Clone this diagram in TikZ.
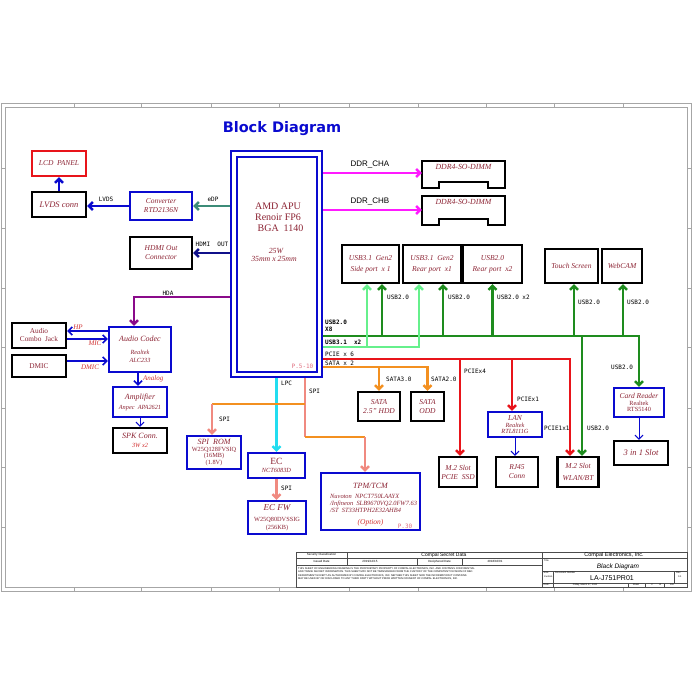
\documentclass[tikz,border=0pt]{standalone}
\usepackage{fontspec}
\setmainfont{Liberation Serif}
\newfontfamily\monof{DejaVu Sans Mono}
\newfontfamily\sansf{Liberation Sans}
\newfontfamily\titlef{DejaVu Sans}
\usetikzlibrary{arrows.meta}
\newcommand\fsz[2]{\fontsize{#1}{#2}\selectfont}
\newcommand\smit{\itshape\fsz{6.3}{7}}
\newcommand\smup{\upshape\fsz{6.3}{7}}
\definecolor{txt}{HTML}{8B2232}
\definecolor{lbl}{HTML}{D03030}
\definecolor{bblue}{HTML}{0A0ACF}
\definecolor{grn}{HTML}{1E8C1E}
\definecolor{lgrn}{HTML}{66F08C}
\definecolor{rdb}{HTML}{E8141A}
\definecolor{org}{HTML}{F39020}
\definecolor{pnk}{HTML}{F08A80}
\definecolor{cyn}{HTML}{22DDF0}
\definecolor{mag}{HTML}{FF1AFF}
\definecolor{pur}{HTML}{8A0A8A}
\definecolor{edpc}{HTML}{3C8C78}
\definecolor{hdmic}{HTML}{10108A}
\definecolor{pgc}{HTML}{E07080}
\begin{document}
\begin{tikzpicture}[x=1pt,y=-1pt,
  bx/.style={draw, line width=2.4pt, inner sep=1pt, align=center, text=txt, font=\itshape\fsz{7.5}{9}},
  kbox/.style={bx, draw=black},
  bbox/.style={bx, draw=bblue},
  rbox/.style={bx, draw=rdb},
  tip/.style={-{Straight Barb[length=4pt,width=8pt]}},
  ln/.style={line width=2.4pt},
  thn/.style={line width=1pt},
  lab/.style={font=\monof\fsz{6}{7}, inner sep=0},
  blab/.style={font=\monof\bfseries\fsz{6}{7}, inner sep=0},
  rlab/.style={font=\itshape\fsz{7}{7.5}, text=lbl, inner sep=0},
  frm/.style={draw=black!35, line width=0.7pt},
  tb/.style={draw=black!70, line width=0.5pt},
  tbt/.style={font=\sansf\fsz{3}{3.5}, inner sep=0},
]
\useasboundingbox (0,0) rectangle (700,700);

% frame
\draw[frm] (1.5,103) rectangle (691.5,591);
\draw[frm] (5,107.5) rectangle (687,587);
\foreach \x in {74,141,211,279,349,418,486,554,623} {\draw[frm] (\x,103) -- (\x,107.5); \draw[frm] (\x,587) -- (\x,591);}
\foreach \y in {168,228,288,347,408,467,527} {\draw[frm] (1.5,\y) -- (5,\y); \draw[frm] (687,\y) -- (691.5,\y);}

% title
\node[font=\titlef\bfseries\fsz{14.5}{16}, text=bblue] (title) at (282,129) {Block Diagram};

% APU
\node[draw=bblue, line width=2.6pt, minimum width=91, minimum height=226, inner sep=0] (apu) at (276.5,264) {};
\draw[bblue, line width=1.3pt] (237,157) rectangle (317,372);
\node[font=\fsz{10}{11.2}, text=txt, align=center] (apuname) at (278,217) {AMD APU\\Renoir FP6\\\ \ BGA\ \ 1140};
\node[font=\itshape\fsz{7.8}{8.8}, text=txt, align=center] (apupw) at (274,255) {\ \ 25W\\35mm x 25mm};
\node[lab, text=pgc] (apupg) at (302.5,366.5) {P.5-10};

% display side
\node[rbox, minimum width=54, minimum height=25] (lcd) at (59,163.5) {LCD\ \ PANEL};
\node[kbox, minimum width=54, minimum height=25, font=\itshape\fsz{8.5}{9}] (lvds) at (59,204.5) {LVDS conn};
\node[bbox, minimum width=62, minimum height=28] (conv) at (161,206) {Converter\\RTD2136N};
\node[kbox, minimum width=62, minimum height=32] (hdmi) at (161,253) {HDMI Out\\Connector};
\draw[ln, bblue, tip] (lvds.north) -- (lcd.south);
\draw[ln, bblue, tip] (conv.west) -- (conv.west -| lvds.east);
\draw[ln, edpc, tip] (apu.west |- conv.east) -- (conv.east);
\draw[ln, hdmic, tip] (apu.west |- hdmi.east) -- (hdmi.east);
\node[lab] (lvdsl) at (106,199) {LVDS};
\node[lab] (edpl) at (213,199) {eDP};
\node[lab] (hdmil) at (212,244) {HDMI\ \ OUT};

% DDR
\node[minimum width=83, minimum height=20, inner sep=0] (dimm1) at (463.5,173) {};
\node[minimum width=83, minimum height=20, inner sep=0] (dimm2) at (463.5,210) {};
\draw[line width=2.4pt] (422,161) -- (505,161) -- (505,188) -- (488,188) -- (488,182) -- (439,182) -- (439,188) -- (422,188) -- cycle;
\draw[line width=2.4pt] (422,196) -- (505,196) -- (505,225) -- (488,225) -- (488,219) -- (439,219) -- (439,225) -- (422,225) -- cycle;
\node[text=txt, font=\itshape\fsz{7.8}{8}] (d1t) at (463.5,166.5) {DDR4-SO-DIMM};
\node[text=txt, font=\itshape\fsz{7.8}{8}] (d2t) at (463.5,202) {DDR4-SO-DIMM};
\draw[ln, mag, tip] (apu.east |- dimm1) -- (dimm1.west);
\draw[ln, mag, tip] (apu.east |- dimm2) -- (dimm2.west);
\node[font=\sansf\fsz{8}{8.5}] (ddral) at (370,165) {DDR\_CHA};
\node[font=\sansf\fsz{8}{8.5}] (ddrbl) at (370,202) {DDR\_CHB};

% USB boxes
\node[kbox, minimum width=57, minimum height=38] (u1) at (370.5,264) {USB3.1\ \ Gen2\\[2pt]Side port\ \ x 1};
\node[kbox, minimum width=58, minimum height=38] (u2) at (432,264) {USB3.1\ \ Gen2\\[2pt]Rear port\ \ x1};
\node[kbox, minimum width=59, minimum height=38] (u3) at (492.5,264) {USB2.0\\[2pt]Rear port\ \ x2};
\node[kbox, minimum width=53, minimum height=34] (touch) at (571.5,266) {Touch Screen};
\node[kbox, minimum width=40, minimum height=34] (webcam) at (622,266) {WebCAM};

% lower boxes
\node[kbox, minimum width=42, minimum height=29] (hdd) at (379,406.5) {SATA\\2.5" HDD};
\node[kbox, minimum width=33, minimum height=29] (odd) at (427.5,406.5) {SATA\\ODD};
\node[kbox, minimum width=38, minimum height=30] (m2ssd) at (458,472) {M.2 Slot\\PCIE\ \ SSD};
\node[bbox, minimum width=54, minimum height=25] (lan) at (515,424.5) {LAN\\[-2pt]{\smit Realtek}\\[-2.5pt]{\smit RTL8111G}};
\node[kbox, minimum width=42, minimum height=30] (rj45) at (517,472) {RJ45\\Conn};
\node[kbox, minimum width=41, minimum height=30] (m2wlan) at (578,472) {M.2 Slot\\[3pt]WLAN/BT};
\node[bbox, minimum width=50, minimum height=29] (card) at (639,402.5) {Card Reader\\[-2pt]{\smup Realtek}\\[-2.5pt]{\smup RTS5140}};
\node[kbox, minimum width=54, minimum height=24, font=\itshape\fsz{8.5}{9}] (slot3) at (641,453) {3 in 1 Slot};

% bus coordinates
\coordinate (gy) at (0,336);
\coordinate (lgy) at (0,347);
\coordinate (ry) at (0,359);
\coordinate (oy) at (0,367);

% green USB2.0 bus
\draw[ln, grn, tip] (apu.east |- gy) -| (card.north);
\coordinate (g1) at ([xshift=11.5]u1.south);
\coordinate (g2) at ([xshift=11]u2.south);
\coordinate (g3) at (u3.south);
\coordinate (g4) at ([xshift=2.5]touch.south);
\coordinate (g5) at ([xshift=1]webcam.south);
\coordinate (g6) at ([xshift=4]m2wlan.north);
\foreach \g in {g1,g2,g3,g4,g5} {\draw[ln, grn, tip] (\g |- gy) -- (\g);}
\draw[ln, grn, tip] (g6 |- gy) -- (g6);

% light green USB3.1 bus
\coordinate (l1) at ([xshift=-3.5]u1.south);
\coordinate (l2) at ([xshift=-13]u2.south);
\draw[ln, lgrn, tip] (apu.east |- lgy) -| (l2);
\draw[ln, lgrn, tip] (l1 |- lgy) -- (l1);

% red PCIE bus
\coordinate (r1) at ([xshift=2]m2ssd.north);
\coordinate (r2) at ([xshift=-3]lan.north);
\coordinate (r3) at ([xshift=-8]m2wlan.north);
\draw[ln, rdb, tip] (apu.east |- ry) -| (r3);
\draw[ln, rdb, tip] (r1 |- ry) -- (r1);
\draw[ln, rdb, tip] (r2 |- ry) -- (r2);

% orange SATA bus
\draw[ln, org, tip] (apu.east |- oy) -| (odd.north);
\draw[ln, org, tip] (hdd.north |- oy) -- (hdd.north);

% thin arrows
\draw[thn, bblue, tip] (lan.south) -- (lan.south |- rj45.north);
\draw[thn, bblue, tip] (card.south) -- (card.south |- slot3.north);

% APU side labels
\node[blab, anchor=west] (u2x8a) at (325,322) {USB2.0};
\node[blab, anchor=west] (u2x8b) at (325,329) {X8};
\node[blab, anchor=west] (u31l) at (325,342) {USB3.1\ \ x2};
\node[lab, anchor=west] (pciel) at (325,354.5) {PCIE\ x\ 6};
\node[lab, anchor=west] (satal) at (325,363) {SATA\ x\ 2};
\node[lab, anchor=west] (lu1) at (387,297) {USB2.0};
\node[lab, anchor=west] (lu2) at (448,297) {USB2.0};
\node[lab, anchor=west] (lu3) at (497,297) {USB2.0\ x2};
\node[lab, anchor=west] (lu4) at (578,302) {USB2.0};
\node[lab, anchor=west] (lu5) at (627,302) {USB2.0};
\node[lab, anchor=west] (lu6) at (611,367) {USB2.0};
\node[lab, anchor=west] (ls3) at (386,379) {SATA3.0};
\node[lab, anchor=west] (ls2) at (431,379) {SATA2.0};
\node[lab, anchor=west] (lp4) at (464,371) {PCIEx4};
\node[lab, anchor=west] (lp1) at (517,399) {PCIEx1};
\node[lab, anchor=west] (lp11) at (544,428) {PCIE1x1};
\node[lab, anchor=west] (lu7) at (587,428) {USB2.0};

% audio
\node[kbox, minimum width=54, minimum height=25, font=\upshape\fsz{7.3}{8}] (jack) at (39,335.5) {Audio\\Combo\ \ Jack};
\node[kbox, minimum width=54, minimum height=22, font=\upshape\fsz{7.3}{8}] (dmic) at (39,366) {DMIC};
\node[bbox, minimum width=62, minimum height=45, font=\itshape\fsz{8}{9}] (codec) at (140,349.5) {Audio Codec\\[4pt]{\smit Realtek}\\[-1.5pt]{\smit ALC233}};
\node[bbox, minimum width=54, minimum height=30, font=\itshape\fsz{8}{9}] (amp) at (140,402) {Amplifier\\[1pt]{\smit Anpec\ \ APA2621}};
\node[kbox, minimum width=54, minimum height=25, font=\itshape\fsz{8}{9}] (spk) at (140,440.5) {SPK Conn.\\[0pt]{\smit\color{lbl}3W x2}};
\coordinate (hday) at (0,297);
\coordinate (hpy) at (0,331);
\coordinate (micy) at (0,339);
\coordinate (dmy) at (0,361);
\coordinate (hx) at ([xshift=-6]codec.north);
\coordinate (ax) at ([xshift=-2]codec.south);
\draw[ln, pur, tip] (apu.west |- hday) -| (hx);
\draw[line width=1.5pt, bblue, tip] (codec.west |- hpy) -- (jack.east |- hpy);
\draw[line width=1.5pt, bblue, tip] (jack.east |- micy) -- (codec.west |- micy);
\draw[line width=1.5pt, bblue, tip] (dmic.east |- dmy) -- (codec.west |- dmy);
\draw[line width=1.5pt, bblue, tip] (ax) -- (ax |- amp.north);
\draw[thn, bblue, tip] (amp.south) -- (spk.north);
\node[lab] (hdal) at (168,293) {HDA};
\node[rlab] (hpl) at (78,327) {HP};
\node[rlab] (micl) at (95,343.5) {MIC};
\node[rlab] (dmicl) at (90,367) {DMIC};
\node[rlab, anchor=west] (anl) at (143,379) {Analog};

% SPI / EC / TPM
\node[bbox, minimum width=54, minimum height=33, font=\itshape\fsz{8}{9}] (spirom) at (214,452.5) {SPI\ \ ROM\\[-2.5pt]{\smup W25Q128FVSIQ}\\[-2.5pt]{\smup (16MB)}\\[-2.5pt]{\smup (1.8V)}};
\node[bbox, minimum width=57, minimum height=25] (ec) at (276.5,465.5) {{\upshape\fsz{9.5}{10}EC}\\[-1.5pt]{\smit NCT6083D}};
\node[bbox, minimum width=58, minimum height=33] (ecfw) at (277,517.5) {{\fsz{9}{9}EC FW}\\[2pt]{\smup W25Q80DVSSIG}\\[-1.5pt]{\smup (256KB)}};
\node[bbox, minimum width=99, minimum height=57] (tpm) at (370.5,501.5) {};
\node[text=txt, font=\itshape\fsz{8}{8}] (tpmt) at (370.5,486) {TPM/TCM};
\node[text=txt, font=\itshape\fsz{6.4}{7}, align=left, anchor=west, inner sep=0] (tpmv) at (330,503.5) {Nuvoton\ \ NPCT750LAAYX\\/Infineon\ \ SLB9670VQ2.0FW7.63\\/ST\ \ ST33HTPH2E32AHB4};
\node[text=lbl, font=\itshape\fsz{7.5}{8}] (tpmo) at (370.5,523) {(Option)};
\node[lab, text=pgc] (tpmp) at (405,526) {P.30};

\coordinate (spx) at (305,0);
\coordinate (sy1) at (0,404);
\coordinate (sy2) at (0,437);
\coordinate (sr) at ([xshift=-2]spirom.north);
\coordinate (st) at ([xshift=-5.5]tpm.north);
\draw[ln, cyn, tip] (apu.south -| ec.north) -- (ec.north);
\draw[ln, pnk] (apu.south -| spx) -- (spx |- sy2);
\draw[ln, org] (spx |- sy1) -- (sr |- sy1);
\draw[ln, pnk, tip] (sr |- sy1) -- (sr);
\draw[ln, org] (spx |- sy2) -- (st |- sy2);
\draw[ln, pnk, tip] (st |- sy2) -- (st);
\draw[ln, pnk, tip] (ec.south) -- (ec.south |- ecfw.north);
\node[lab, anchor=west] (lpcl) at (281,383) {LPC};
\node[lab, anchor=west] (spil1) at (309,391) {SPI};
\node[lab, anchor=west] (spil2) at (219,419) {SPI};
\node[lab, anchor=west] (spil3) at (281,488) {SPI};

% title block
\draw[tb] (296,552) rectangle (687,587);
\draw[tb] (296,558) -- (542,558);
\draw[tb] (296,565) -- (542,565);
\draw[tb] (347,552) -- (347,565);
\draw[tb] (417,558) -- (417,565);
\draw[tb] (462,558) -- (462,565);
\draw[tb] (542,552) -- (542,587);
\draw[tb] (542,558) -- (687,558);
\draw[tb] (542,571) -- (687,571);
\draw[tb] (542,583) -- (687,583);
\draw[tb] (553,571) -- (553,587);
\draw[tb] (674,571) -- (674,583);
\draw[tb] (628,583) -- (628,587);
\draw[tb] (645,583) -- (645,587);
\draw[tb] (664,583) -- (664,587);
\node[tbt] (tb1) at (321.5,555) {Security Classification};
\node[tbt, font=\sansf\fsz{5}{6}] (tb2) at (444,555) {Compal Secret Data};
\node[tbt] (tb3) at (321.5,561.5) {Issued Date};
\node[tbt] (tb4) at (370,561.5) {2019/12/15};
\node[tbt] (tb5) at (439.5,561.5) {Deciphered Date};
\node[tbt] (tb6) at (495,561.5) {2018/10/01};
\node[tbt, font=\sansf\fsz{2.6}{3.6}, align=left, anchor=north west] (tb7) at (298,567) {THIS SHEET OF ENGINEERING DRAWING IS THE PROPRIETARY PROPERTY OF COMPAL ELECTRONICS, INC. AND CONTAINS CONFIDENTIAL\\AND TRADE SECRET INFORMATION. THIS SHEET MAY NOT BE TRANSFERED FROM THE CUSTODY OF THE COMPETENT DIVISION OF R\&D\\DEPARTMENT EXCEPT AS AUTHORIZED BY COMPAL ELECTRONICS, INC. NEITHER THIS SHEET NOR THE INFORMATION IT CONTAINS\\MAY BE USED BY OR DISCLOSED TO ANY THIRD PARTY WITHOUT PRIOR WRITTEN CONSENT OF COMPAL ELECTRONICS, INC.};
\node[tbt, font=\sansf\fsz{5.5}{6}] (tb8) at (614,555) {Compal Electronics, Inc.};
\node[tbt, font=\sansf\fsz{2.4}{3}, anchor=north west] (tb9) at (544,559.5) {Title};
\node[tbt, font=\sansf\itshape\fsz{6.5}{7}] (tb10) at (618,567) {Black Diagram};
\node[tbt, font=\sansf\fsz{2.4}{3}, anchor=north west] (tb11) at (543.5,572) {Size};
\node[tbt, font=\sansf\fsz{2.4}{3}, anchor=north west] (tb12) at (544,576) {Custom};
\node[tbt, font=\sansf\fsz{2.4}{3}, anchor=north west] (tb13) at (555,572) {Document Number};
\node[tbt, font=\sansf\fsz{7}{8}] (tb14) at (612,578.5) {LA-J751PR01};
\node[tbt, font=\sansf\fsz{2.4}{3}, anchor=north west] (tb15) at (676,572) {Rev};
\node[tbt, font=\sansf\fsz{2.4}{3}, anchor=north west] (tb16) at (678,576) {0.1};
\node[tbt, font=\sansf\fsz{2.4}{3}, anchor=west] (tb17) at (543.5,585) {Date:};
\node[tbt, font=\sansf\fsz{2.4}{3}] (tb18) at (585,585) {Friday, March 27, 2020};
\node[tbt, font=\sansf\fsz{2.4}{3}] (tb19) at (636,585) {Sheet};
\node[tbt, font=\sansf\fsz{2.4}{3}] (tb20) at (652,585) {2};
\node[tbt, font=\sansf\fsz{2.4}{3}] (tb21) at (660,585) {of};
\node[tbt, font=\sansf\fsz{2.4}{3}] (tb22) at (672,585) {100};
\end{tikzpicture}
\end{document}
